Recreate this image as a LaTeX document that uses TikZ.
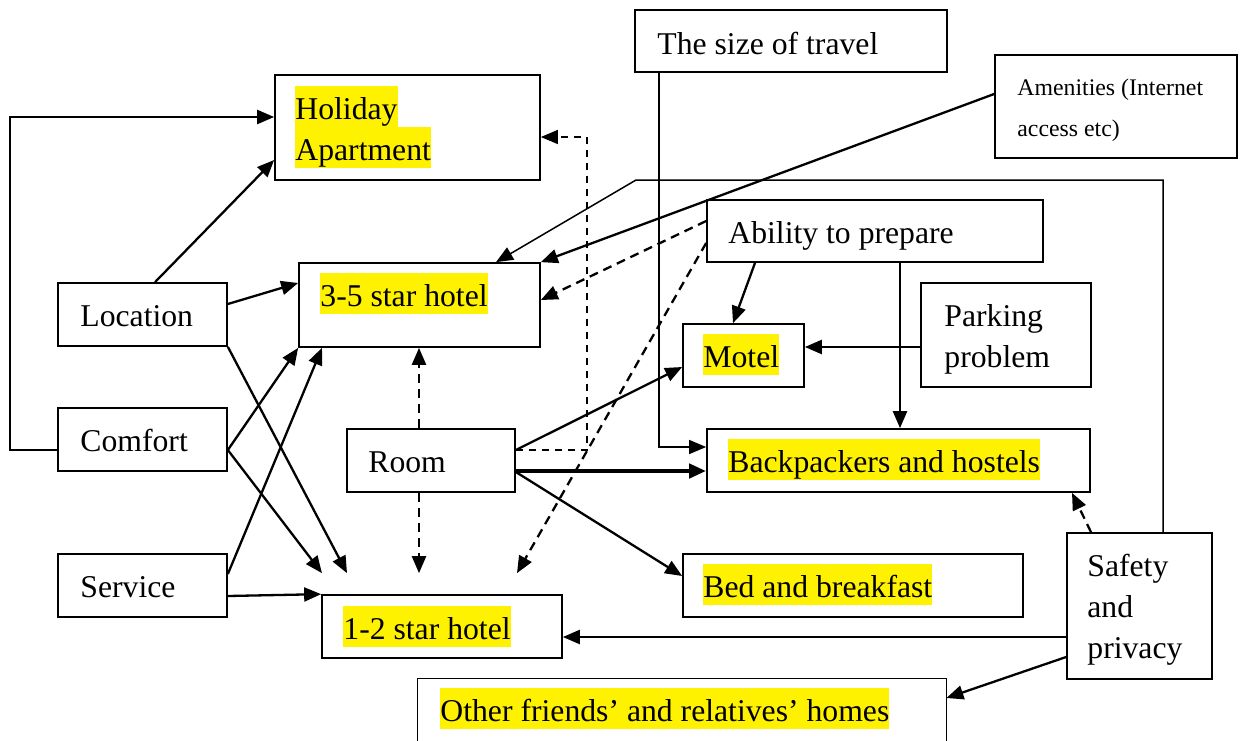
\documentclass[tikz,border=0pt]{standalone}
\usepackage{fontspec}
\setmainfont{Liberation Serif}
\usetikzlibrary{arrows.meta,fit,calc}

\tikzset{
  box/.style={draw, line width=0.85pt, inner sep=0pt},
  txt/.style={anchor=base west, inner sep=0pt},
  hl/.style={txt, fill=yellow, text height=16.5pt, text depth=4pt},
  tip/.style={-{Triangle[length=8.5pt,width=7pt]}},
  conn/.style={draw, line width=1.15pt, tip},
  thinconn/.style={draw, line width=0.75pt, tip},
  thickconn/.style={draw, line width=2.4pt, -{Triangle[length=8.5pt,width=7pt]}},
  dconn/.style={draw, line width=1.15pt, dash pattern=on 4.5pt off 3pt, tip},
  thindash/.style={draw, line width=0.7pt, dash pattern=on 3.5pt off 3pt, tip},
  small/.style={font=\fontsize{11.9}{14}\selectfont}
}

\begin{document}
\begin{tikzpicture}[x=0.5pt, y=-0.5pt, font=\fontsize{15.85}{20.75}\selectfont]
\useasboundingbox (0,0) rectangle (1243,740);

% ---- boxes ----
\node[box, fit={(275,75) (540,180)}] (hol) {};
\node[box, fit={(635,10) (947,72)}] (size) {};
\node[box, fit={(995,55) (1237,158)}] (amen) {};
\node[box, fit={(299,263) (540,347)}] (h35) {};
\node[box, fit={(58,283) (227,346)}] (loc) {};
\node[box, fit={(707,200) (1043,262)}] (abil) {};
\node[box, fit={(683,324) (804,387)}] (motel) {};
\node[box, fit={(921,283) (1091,387)}] (park) {};
\node[box, fit={(58,408) (227,471)}] (comf) {};
\node[box, fit={(347,429) (515,492)}] (room) {};
\node[box, fit={(707,429) (1090,492)}] (back) {};
\node[box, fit={(683,554) (1023,617)}] (bed) {};
\node[box, fit={(58,554) (227,617)}] (serv) {};
\node[box, fit={(322,595) (562,658)}] (h12) {};
\node[box, fit={(1067,533) (1212,679)}] (safe) {};
\node[inner sep=0pt, fit={(418,679) (946,748)}] (other) {};
\draw[line width=0.85pt] (other.south west) -- (other.north west) -- (other.north east) -- (other.south east);

% ---- labels ----
\node[hl] (hol-a) at (295,119) {Holiday};
\node[hl] (hol-b) at (295,160) {Apartment};
\node[txt] (size-t) at (657,54) {The size of travel};
\node[txt, small] (amen-a) at (1017,95) {Amenities (Internet};
\node[txt, small] (amen-b) at (1017,136) {access etc)};
\node[hl] (h35-t) at (320,306) {3-5 star hotel};
\node[txt] (loc-t) at (80,326) {Location};
\node[txt] (abil-t) at (728,243) {Ability to prepare};
\node[hl] (motel-t) at (703,367) {Motel};
\node[txt] (park-a) at (944,326) {Parking};
\node[txt] (park-b) at (944,367) {problem};
\node[txt] (comf-t) at (80,451) {Comfort};
\node[txt] (room-t) at (368,472) {Room};
\node[hl] (back-t) at (728,472) {Backpackers and hostels};
\node[hl] (bed-t) at (703,597) {Bed and breakfast};
\node[txt] (serv-t) at (80,597) {Service};
\node[hl] (h12-t) at (343,639) {1-2 star hotel};
\node[txt] (safe-a) at (1087,576) {Safety};
\node[txt] (safe-b) at (1087,617) {and};
\node[txt] (safe-c) at (1087,658) {privacy};
\node[hl] (other-t) at (440,721) {Other friends’ and relatives’ homes};

% ---- free arrow ends above the 1-2 star hotel ----
\coordinate (h12a) at ($(h12.north -| 322,0)+(0,-21)$);
\coordinate (h12b) at ($(h12.north -| 347,0)+(0,-21)$);
\coordinate (h12c) at ($(h12.north -| 419,0)+(0,-21)$);
\coordinate (h12d) at ($(h12.north -| 517,0)+(0,-21)$);

% ---- connectors ----
\draw[conn] (comf.west |- 0,450) -- (10,450) -- (10,117) -- (hol.west |- 0,117);
\draw[conn] (loc.north -| 155,0) -- (hol.west |- 0,160);
\draw[conn] (loc.east |- 0,304) -- (h35.west |- 0,283);
\draw[conn] (loc.south east) -- (h12b);
\draw[conn] (comf.east |- 0,450) -- (h35.south west);
\draw[conn] (comf.east |- 0,450) -- (h12a);
\draw[conn] (serv.east |- 0,574) -- (h35.south -| 322,0);
\draw[conn] (serv.east |- 0,596) -- (h12.north west);

\draw[dconn] (room.north -| 419,0) -- (h35.south -| 419,0);
\draw[dconn] (room.south -| 419,0) -- (h12c);
\draw[thindash] (room.east |- 0,450) -- (587,450) -- (587,137) -- (hol.east |- 0,137);

\draw[dconn] (abil.west |- 0,221) -- (h35.east |- 0,300);
\draw[dconn] (abil.west |- 0,243) -- (h12d);
\draw[conn] (abil.south -| 755,0) -- (motel.north -| 733,0);
\draw[conn] (abil.south -| 900,0) -- (back.north -| 900,0);
\draw[conn] (park.west |- 0,347) -- (motel.east |- 0,347);

\draw[conn] (room.east |- 0,450) -- (motel.west |- 0,367);
\draw[thickconn] (room.east |- 0,471) -- (back.west |- 0,471);
\draw[conn] (room.east |- 0,472) -- (bed.west |- 0,576);

\draw[thinconn] (size.south -| 659,0) -- (659,447) -- (back.west |- 0,447);
\draw[conn] (amen.west |- 0,94) -- (h35.north east);
\draw[thinconn] (safe.north -| 1163,0) -- (1163,180) -- (636,180) -- (h35.north -| 496,0);
\draw[dconn] (safe.north -| 1091,0) -- (back.south -| 1072,0);
\draw[conn] (safe.west |- 0,637) -- (h12.east |- 0,637);
\draw[conn] (safe.west |- 0,657) -- (other.east |- 0,698);
\end{tikzpicture}
\end{document}
